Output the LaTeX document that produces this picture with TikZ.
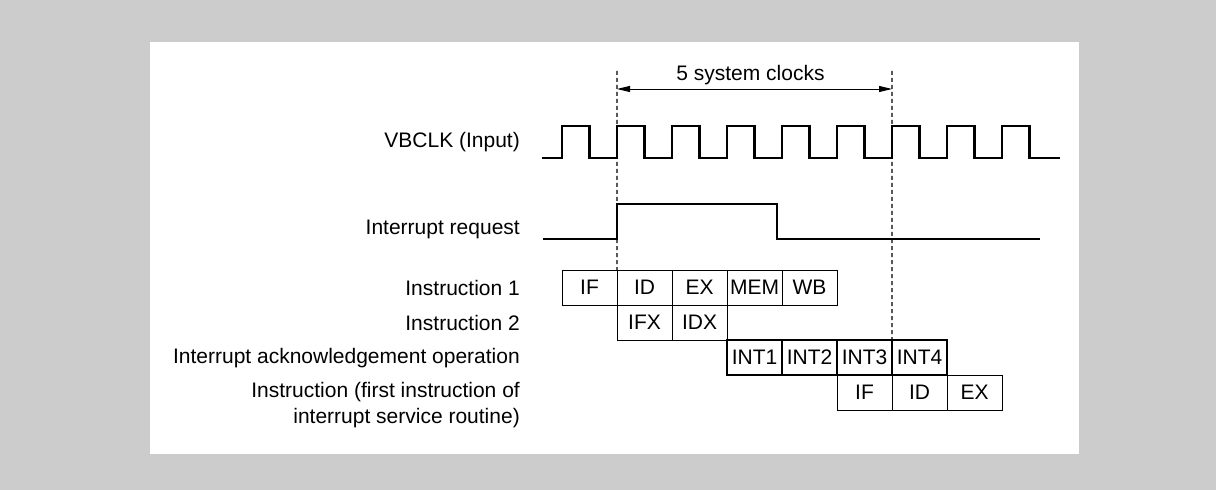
\documentclass[tikz,border=0pt]{standalone}
\usepackage{fontspec}
\setmainfont{Liberation Sans}
\usetikzlibrary{arrows.meta,positioning}

\begin{document}
\begin{tikzpicture}[x=1bp,y=-1bp,>={Triangle[length=13bp,width=6bp]},
  stage/.style={draw,line width=0.9bp,minimum width=55bp,minimum height=35bp,inner sep=0pt,outer sep=0pt},
  intstage/.style={stage,line width=2.4bp},
  sig/.style={line width=2.4bp,line join=miter},
  guide/.style={line width=1.1bp,dash pattern=on 4bp off 3bp},
  lbl/.style={anchor=east,inner sep=0pt},
  font=\fontsize{21bp}{26bp}\selectfont]
\fill[gray!40] (0,0) rectangle (1216,490);
\fill[white] (150,42) rectangle (1079,454);

\draw[sig] (542,158) \foreach \k in {0,...,8} { -- (562+55*\k,158) -- (562+55*\k,126) -- (589.5+55*\k,126) -- (589.5+55*\k,158) } -- (1060,158);
\draw[sig] (543,239) -- (617,239) -- (617,204) -- (777,204) -- (777,239) -- (1040,239);

\node[lbl] (lclk) at (520,142) {VBCLK (Input)};
\node[lbl] (lirq) at (520,229) {Interrupt request};
\node[lbl] (lin1) at (520,288) {Instruction 1};
\node[lbl] (lin2) at (520,323) {Instruction 2};
\node[lbl] (lack) at (520,358) {Interrupt acknowledgement operation};
\node[lbl,align=right] (lisr) at (520,405) {Instruction (first instruction of\\interrupt service routine)};

\node[stage,anchor=north west] (if1) at (562,270) {IF};
\node[stage,right=0pt of if1] (id1) {ID};
\node[stage,right=0pt of id1] (ex1) {EX};
\node[stage,right=0pt of ex1] (mem1) {MEM};
\node[stage,right=0pt of mem1] (wb1) {WB};
\node[stage,below=0pt of id1] (ifx) {IFX};
\node[stage,right=0pt of ifx] (idx) {IDX};
\node[intstage,anchor=north west] (int1) at (idx.south east) {INT1};
\node[intstage,right=0pt of int1] (int2) {INT2};
\node[intstage,right=0pt of int2] (int3) {INT3};
\node[intstage,right=0pt of int3] (int4) {INT4};
\node[stage,below=0pt of int3] (if2) {IF};
\node[stage,right=0pt of if2] (id2) {ID};
\node[stage,right=0pt of id2] (ex2) {EX};

\coordinate (m0) at (617,71);
\coordinate (m5) at (892,71);
\draw[guide] (m0) -- (id1.north west);
\draw[guide] (m5) -- (int4.north west);
\coordinate (a0) at (617,89);
\coordinate (a5) at (892,89);
\draw[<->,line width=0.9bp] (a0) -- (a5) node[midway,above=0bp,xshift=-4bp] (span) {5 system clocks};
\end{tikzpicture}
\end{document}
